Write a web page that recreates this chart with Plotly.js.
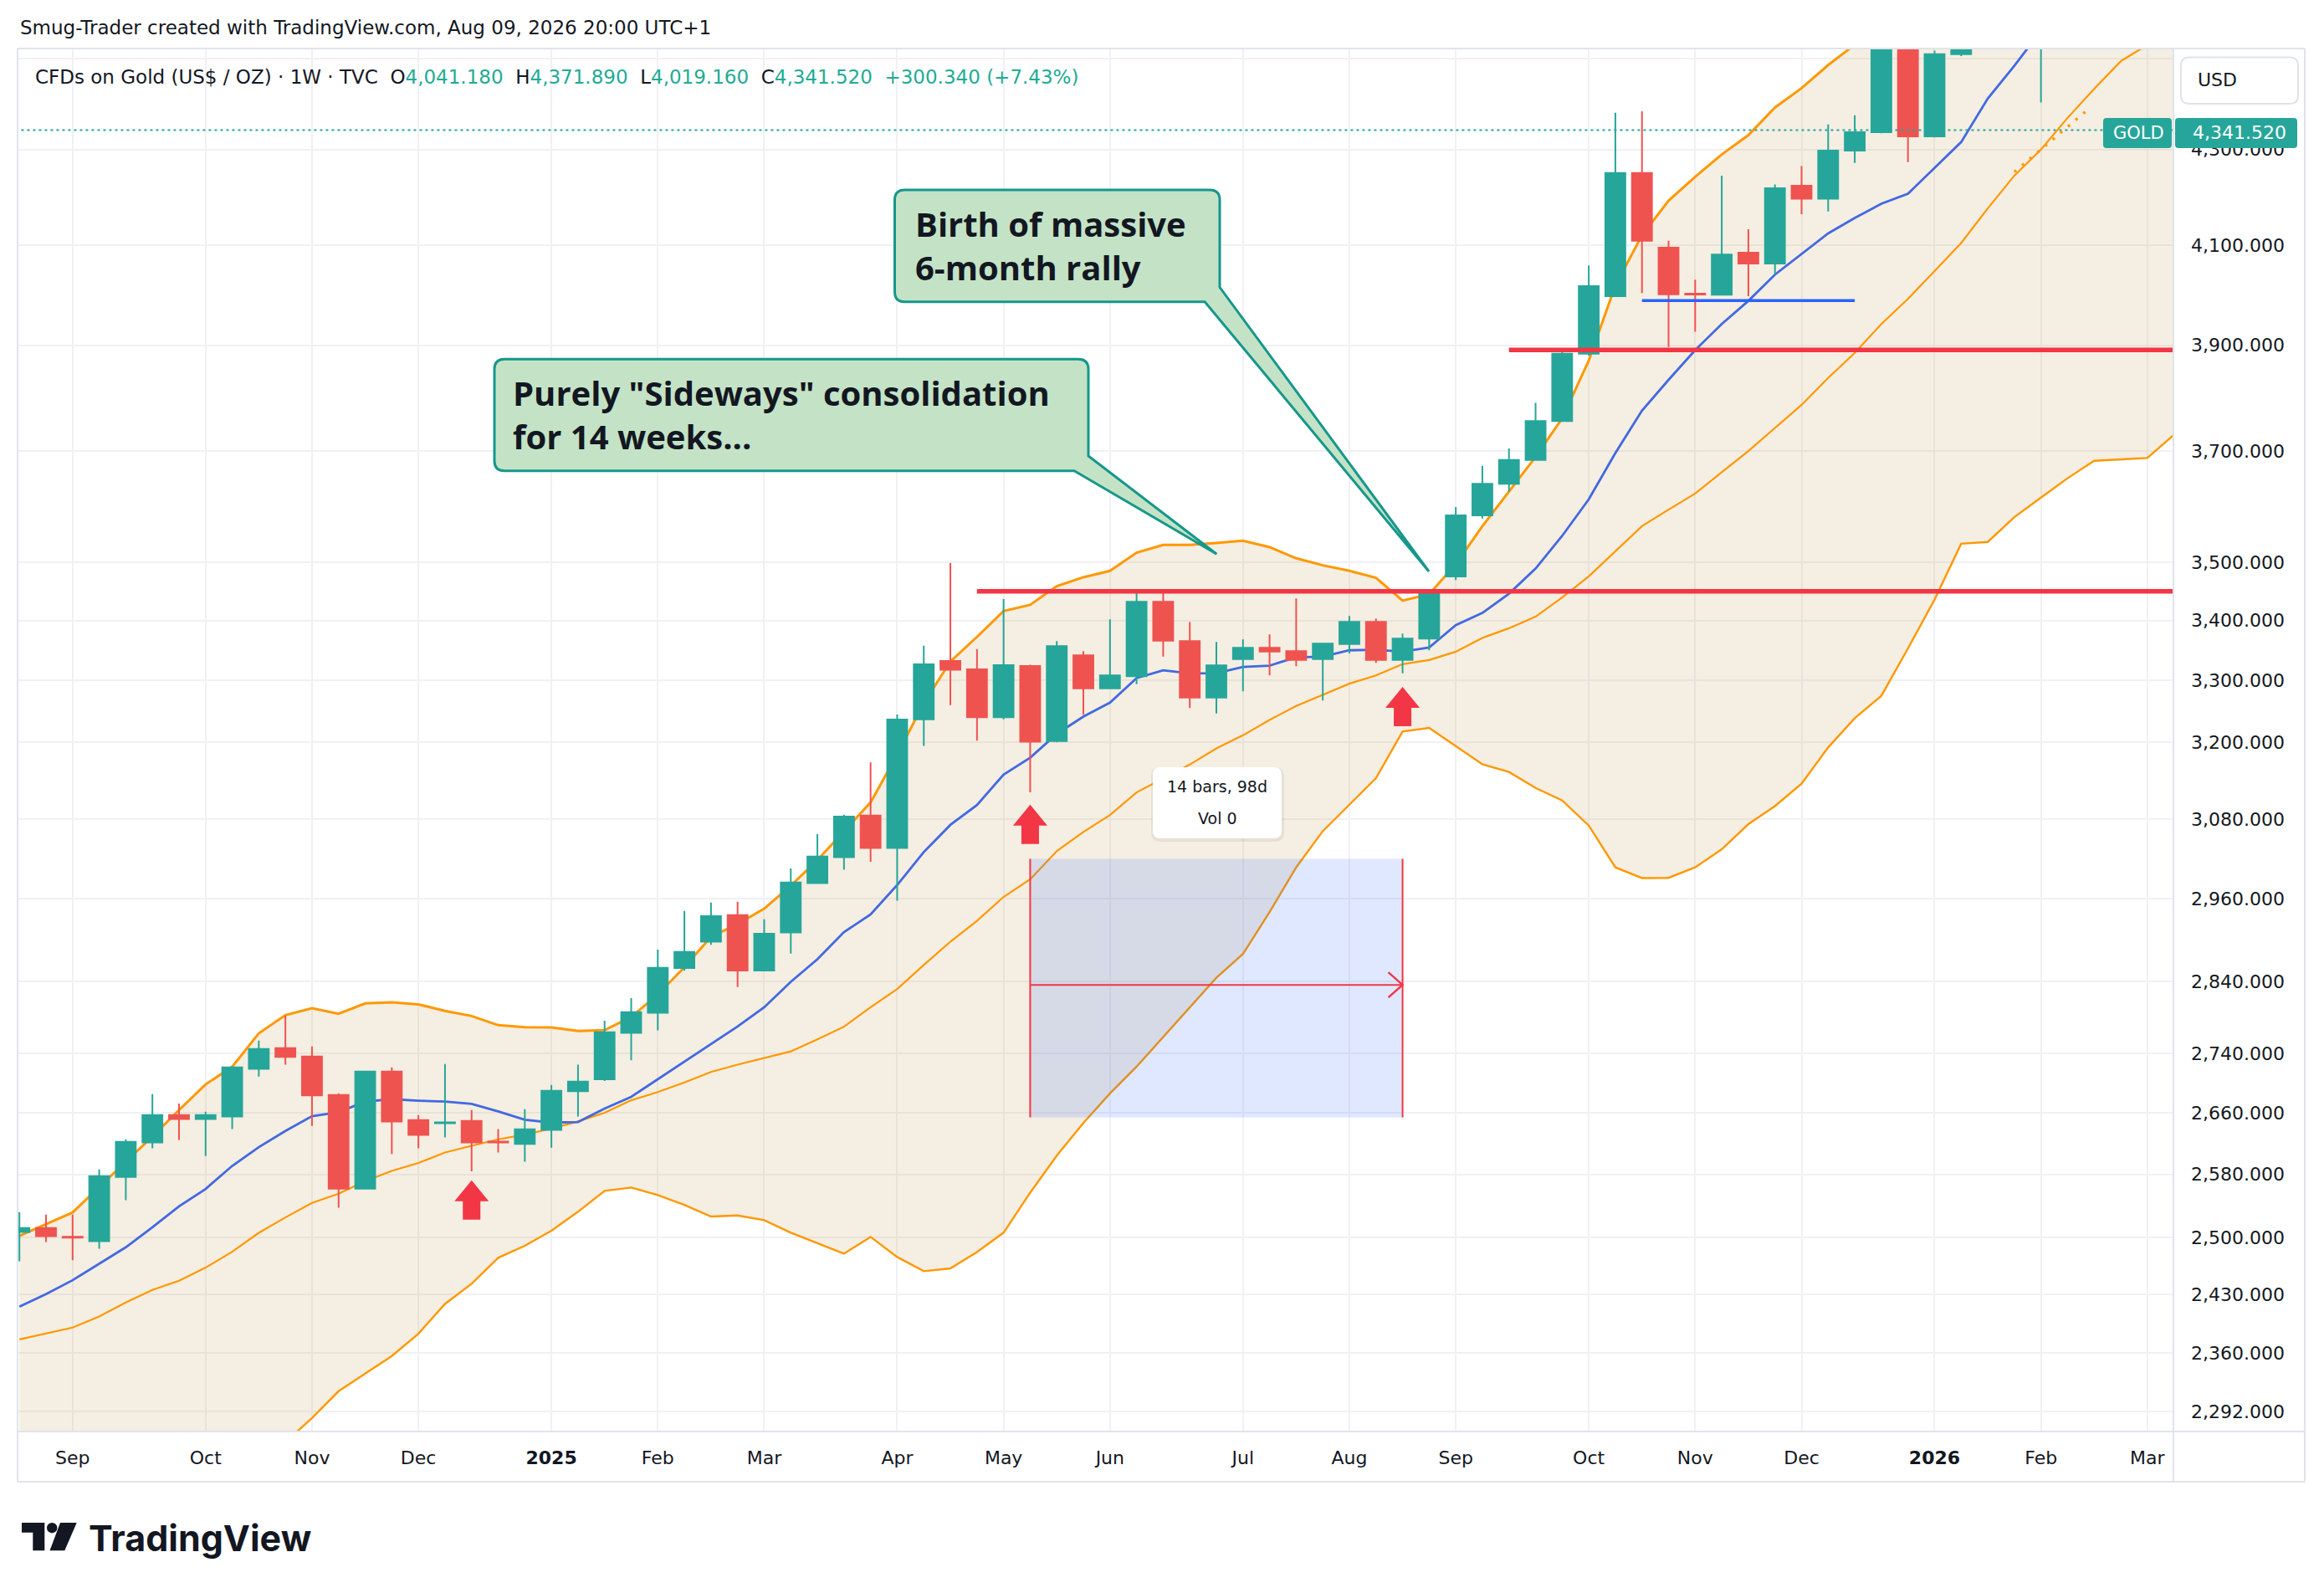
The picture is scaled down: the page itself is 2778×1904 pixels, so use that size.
<!DOCTYPE html>
<html><head><meta charset="utf-8">
<script src="https://cdn.plot.ly/plotly-3.0.1.min.js"></script>
<style>html,body{margin:0;padding:0;background:#fff;}#chart{width:2778px;height:1904px;}</style>
</head><body><div id="chart"></div>
<script>
// ---------- DATA ----------
const weeks = ['2024-08-19','2024-08-26','2024-09-02','2024-09-09','2024-09-16','2024-09-23','2024-09-30','2024-10-07','2024-10-14','2024-10-21',
'2024-10-28','2024-11-04','2024-11-11','2024-11-18','2024-11-25','2024-12-02','2024-12-09','2024-12-16','2024-12-23','2024-12-30',
'2025-01-06','2025-01-13','2025-01-20','2025-01-27','2025-02-03','2025-02-10','2025-02-17','2025-02-24','2025-03-03','2025-03-10',
'2025-03-17','2025-03-24','2025-03-31','2025-04-07','2025-04-14','2025-04-21','2025-04-28','2025-05-05','2025-05-12','2025-05-19',
'2025-05-26','2025-06-02','2025-06-09','2025-06-16','2025-06-23','2025-06-30','2025-07-07','2025-07-14','2025-07-21','2025-07-28',
'2025-08-04','2025-08-11','2025-08-18','2025-08-25','2025-09-01','2025-09-08','2025-09-15','2025-09-22','2025-09-29','2025-10-06',
'2025-10-13','2025-10-20','2025-10-27','2025-11-03','2025-11-10','2025-11-17','2025-11-24','2025-12-01','2025-12-08','2025-12-15',
'2025-12-22','2025-12-29','2026-01-05','2026-01-12','2026-01-19','2026-01-26','2026-02-02','2026-02-09','2026-02-16','2026-02-23',
'2026-03-02','2026-03-09'];

const open = [2507.0,2511.9,2501.0,2495.5,2576.6,2621.4,2657.4,2652.2,2655.5,2719.4,
2747.6,2736.1,2684.1,2561.6,2715.7,2650.7,2646.7,2649.6,2622.5,2619.3,
2637.9,2689.0,2705.3,2768.5,2796.4,2859.4,2897.2,2935.8,2856.0,2910.7,
2983.0,3021.8,3085.1,3035.8,3236.8,3332.2,3318.3,3240.0,3324.0,3202.0,
3341.8,3287.0,3307.1,3432.1,3365.5,3271.9,3335.3,3354.3,3348.7,3335.3,
3360.4,3397.9,3333.9,3369.7,3475.8,3583.0,3639.9,3683.4,3755.6,3883.9,
3996.6,4249.9,4094.5,4001.9,3999.6,4084.3,4062.4,4223.1,4195.6,4297.5,
4336.9,4530.0,4328.2,4509.0,4600.0,4890.0,4900.0];
const high = [2531.5,2528.7,2528.7,2586.3,2625.4,2685.2,2672.6,2661.8,2722.8,2757.9,
2792.2,2749.9,2686.4,2715.7,2721.3,2657.4,2725.9,2664.0,2639.0,2665.2,
2697.6,2725.1,2785.4,2816.7,2885.7,2941.9,2954.2,2955.6,2929.7,3005.0,
3056.7,3086.6,3167.9,3244.6,3357.8,3499.0,3352.0,3436.9,3326.0,3365.5,
3348.7,3402.2,3446.9,3446.9,3397.5,3364.1,3368.3,3376.8,3437.8,3362.7,
3407.9,3403.6,3378.2,3453.0,3598.1,3672.8,3704.7,3789.6,3887.0,4058.5,
4379.2,4382.5,4108.7,4029.8,4244.2,4132.4,4225.5,4264.6,4354.0,4374.1,
4550.0,4560.0,4517.0,4640.0,4900.0,5100.0,5050.0];
const low = [2470.7,2494.5,2472.0,2486.2,2547.1,2613.8,2624.7,2603.6,2639.0,2708.9,
2725.1,2643.0,2537.5,2561.6,2606.2,2613.8,2628.0,2583.8,2608.3,2596.4,
2614.5,2655.5,2703.0,2731.0,2772.1,2855.6,2892.6,2832.4,2856.0,2880.2,
2983.0,3003.1,3015.1,2957.0,3194.3,3259.7,3202.5,3236.8,3121.0,3200.0,
3244.3,3287.0,3293.8,3339.5,3255.2,3246.1,3282.4,3308.5,3323.7,3267.4,
3345.0,3329.3,3311.7,3350.1,3469.4,3577.5,3625.9,3683.4,3755.6,3880.0,
3996.6,4002.8,3896.6,3926.6,3998.0,3996.6,4039.9,4163.5,4169.1,4271.2,
4335.0,4272.8,4326.0,4505.0,4580.0,4760.0,4402.0];
const close = [2511.9,2501.8,2500.0,2577.7,2622.2,2657.4,2652.2,2657.4,2721.3,2746.4,
2735.4,2683.4,2561.6,2715.7,2648.9,2631.3,2647.8,2621.4,2621.4,2638.7,
2689.7,2702.1,2769.4,2797.3,2859.7,2882.5,2934.4,2856.0,2908.8,2984.0,
3022.8,3083.7,3035.8,3236.4,3326.9,3317.9,3240.0,3325.3,3201.0,3357.0,
3287.0,3308.5,3432.1,3366.0,3271.9,3325.1,3354.3,3347.8,3333.9,3361.3,
3397.9,3333.9,3369.7,3447.0,3583.0,3639.9,3683.4,3755.6,3883.9,4016.6,
4249.9,4108.7,4000.5,4000.0,4080.4,4062.4,4217.4,4195.6,4297.5,4337.3,
4530.0,4328.2,4508.9,4600.0,4890.0,4980.0,4960.0];

const maBlue = [2415.3,2430.5,2447.4,2467.2,2487.9,2512.9,2539.2,2561.3,2590.9,2615.2,
2636.4,2655.9,2661.1,2675.2,2678.5,2676.5,2675.2,2672.2,2662.3,2651.1,
2647.4,2648.2,2665.9,2681.6,2705.3,2729.1,2753.1,2777.4,2804.0,2839.9,
2871.9,2911.1,2936.8,2980.2,3029.6,3070.9,3101.4,3148.8,3175.5,3213.4,
3241.2,3263.8,3303.9,3316.8,3311.7,3312.1,3322.3,3324.6,3338.5,3339.5,
3350.1,3351.0,3347.8,3354.8,3392.3,3413.1,3445.9,3489.4,3546.7,3612.0,
3696.2,3775.1,3833.5,3890.7,3941.8,3987.4,4039.9,4081.9,4123.7,4155.5,
4185.2,4206.1,4260.5,4315.7,4410.4,4483.0,4562.0];

const bbUpper = [2502.0,2516.4,2531.5,2563.8,2596.4,2629.1,2664.0,2698.3,2722.1,2767.9,
2793.0,2802.7,2795.0,2809.4,2811.0,2808.1,2798.9,2791.8,2779.1,2776.2,
2775.9,2771.0,2772.2,2790.6,2821.9,2860.6,2904.2,2922.8,2945.2,2979.2,
3017.5,3061.1,3105.4,3180.6,3262.8,3331.4,3372.5,3416.2,3426.8,3458.9,
3474.3,3485.4,3517.1,3530.8,3530.8,3534.2,3538.0,3526.8,3507.3,3495.1,
3485.4,3473.4,3434.0,3445.0,3497.0,3563.8,3625.9,3689.1,3760.6,3870.5,
4018.2,4119.7,4191.6,4241.8,4289.3,4330.7,4390.9,4433.3,4484.7,4530.6,
4610.0,4710.0,4760.0,4830.0,4920.0,5010.0,5100.0,5180.0,5230.0,5300.0,
5360.0,5400.0];
const bbBasis = [2376.3,2383.3,2390.3,2403.6,2420.3,2435.5,2446.7,2462.8,2482.4,2505.9,
2525.2,2543.5,2555.2,2571.3,2584.5,2594.6,2608.3,2617.0,2625.4,2631.6,
2639.4,2648.9,2660.3,2677.0,2688.0,2701.0,2715.0,2725.0,2734.0,2743.0,
2759.7,2777.0,2804.0,2829.6,2863.7,2897.2,2927.4,2962.6,2988.8,3031.0,
3060.0,3086.0,3121.0,3143.0,3164.6,3190.2,3211.1,3235.8,3258.3,3276.5,
3294.8,3308.5,3327.0,3333.9,3347.8,3370.8,3387.1,3406.6,3439.5,3475.9,
3519.6,3563.8,3593.3,3622.4,3660.9,3699.8,3742.6,3786.0,3837.2,3885.4,
3941.8,3991.3,4046.9,4104.0,4175.5,4244.2,4299.6,4368.2,4431.6,4493.3,
4530.0,4575.0];
const bbLower = [2250.6,2250.2,2249.1,2243.4,2244.2,2241.9,2229.4,2227.3,2242.7,2243.9,
2257.4,2285.0,2315.7,2336.1,2356.6,2383.0,2418.7,2443.1,2474.9,2489.7,
2508.4,2532.3,2558.8,2563.1,2553.5,2541.1,2526.3,2527.6,2521.7,2506.0,
2492.8,2480.0,2500.8,2475.9,2458.4,2461.8,2482.0,2506.1,2556.6,2604.2,
2646.8,2686.2,2722.2,2762.7,2803.8,2845.5,2879.6,2940.3,3006.5,3061.3,
3102.0,3143.3,3217.1,3222.9,3193.9,3165.2,3152.9,3128.0,3108.5,3069.9,
3006.5,2990.6,2990.9,3006.5,3033.8,3072.0,3099.8,3134.6,3191.7,3238.7,
3274.9,3353.2,3435.9,3532.8,3536.0,3580.0,3615.0,3650.0,3682.0,3684.0,
3687.0,3730.0];

const monthTickDates = ['2024-09-02','2024-10-07','2024-11-04','2024-12-02','2025-01-06','2025-02-03','2025-03-03','2025-04-07','2025-05-05','2025-06-02',
'2025-07-07','2025-08-04','2025-09-01','2025-10-06','2025-11-03','2025-12-01','2026-01-05','2026-02-02','2026-03-02'];
const monthTickText = ['Sep','Oct','Nov','Dec','<b>2025</b>','Feb','Mar','Apr','May','Jun','Jul','Aug','Sep','Oct','Nov','Dec','<b>2026</b>','Feb','Mar'];
const priceTickVals = [2292,2360,2430,2500,2580,2660,2740,2840,2960,3080,3200,3300,3400,3500,3700,3900,4100,4300,4500];
const priceTickText = ['2,292.000','2,360.000','2,430.000','2,500.000','2,580.000','2,660.000','2,740.000','2,840.000','2,960.000','3,080.000',
'3,200.000','3,300.000','3,400.000','3,500.000','3,700.000','3,900.000','4,100.000','4,300.000',''];

// drawings (anchored to dates / prices)
const levelPrices = [3450, 3891];
const levelStarts = ['2025-04-28','2025-09-15'];
const supportLine = {x:['2025-10-20','2025-12-15'], y:[3988, 3988]};
const dottedTrend = {x:['2026-01-26','2026-02-13 21:36'], y:[4252, 4383]};
const lastPrice = 4341.52;
const rangeBox = {x0:'2025-05-12', x1:'2025-08-18', y0:2654.4, y1:3019.3, ymid:2835.5};
const arrowDates = ['2024-12-16','2025-05-12','2025-08-18'];
const arrowTips = [2572.3, 3102.0, 3289.5];

// ---------- LAYOUT HELPERS (pixel -> paper) ----------
const W=2778, H=1904, ML=21, MR=180, MT=58, MB=193;
const PW=W-ML-MR, PH=H-MT-MB;
const fx = px => (px-ML)/PW;
const fy = py => (H-MB-py)/PH;
const P = (x,y) => fx(x).toFixed(5)+','+fy(y).toFixed(5);
function rrect(x0,y0,x1,y1,r){
  return `M${P(x0+r,y0)} L${P(x1-r,y0)} Q${P(x1,y0)} ${P(x1,y0+r)} L${P(x1,y1-r)} Q${P(x1,y1)} ${P(x1-r,y1)} L${P(x0+r,y1)} Q${P(x0,y1)} ${P(x0,y1-r)} L${P(x0,y0+r)} Q${P(x0,y0)} ${P(x0+r,y0)} Z`;
}
function callout(x0,y0,x1,y1,r,ry,tip,bx){
  return `M${P(x0+r,y0)} L${P(x1-r,y0)} Q${P(x1,y0)} ${P(x1,y0+r)} L${P(x1,ry)} L${P(tip[0],tip[1])} L${P(bx,y1)} L${P(x0+r,y1)} Q${P(x0,y1)} ${P(x0,y1-r)} L${P(x0,y0+r)} Q${P(x0,y0)} ${P(x0+r,y0)} Z`;
}

const TEAL='#26a69a', RED='#ef5350', LRED='#f23645', ORANGE='#ff9800', TXT='#131722';
const xRange=['2024-08-18 12:22','2026-03-08 20:38'];
const yRange=[Math.log10(2269.6), Math.log10(4521.8)];

// ---------- TRACES ----------
const nC = open.length;
const traces = [
  {type:'scatter', mode:'lines', x:weeks, y:bbLower, line:{color:ORANGE,width:2.4}, hoverinfo:'skip', xaxis:'x', yaxis:'y'},
  {type:'scatter', mode:'lines', x:weeks, y:bbUpper, line:{color:ORANGE,width:3}, fill:'tonexty', fillcolor:'rgba(204,170,110,0.2)', hoverinfo:'skip', xaxis:'x', yaxis:'y'},
  {type:'scatter', mode:'lines', x:weeks, y:bbBasis, line:{color:ORANGE,width:2.2}, hoverinfo:'skip', xaxis:'x', yaxis:'y'},
  {type:'scatter', mode:'lines', x:weeks.slice(0,maBlue.length), y:maBlue, line:{color:'#4169e1',width:2.8}, hoverinfo:'skip', xaxis:'x', yaxis:'y'},
  {type:'candlestick', x:weeks.slice(0,nC), open:open, high:high, low:low, close:close,
   increasing:{line:{color:TEAL,width:2}, fillcolor:TEAL}, decreasing:{line:{color:RED,width:2}, fillcolor:RED},
   whiskerwidth:0, hoverinfo:'skip', xaxis:'x2', yaxis:'y2'},
  {type:'scatter', mode:'lines', x:[rangeBox.x0,rangeBox.x1,rangeBox.x1,rangeBox.x0,rangeBox.x0], y:[rangeBox.y0,rangeBox.y0,rangeBox.y1,rangeBox.y1,rangeBox.y0],
   fill:'toself', fillcolor:'rgba(41,98,255,0.15)', line:{width:0}, hoverinfo:'skip', xaxis:'x2', yaxis:'y2'},
  {type:'scatter', mode:'lines', x:[rangeBox.x0,rangeBox.x0], y:[rangeBox.y0,rangeBox.y1], line:{color:LRED,width:2}, hoverinfo:'skip', xaxis:'x2', yaxis:'y2'},
  {type:'scatter', mode:'lines', x:[rangeBox.x1,rangeBox.x1], y:[rangeBox.y0,rangeBox.y1], line:{color:LRED,width:2}, hoverinfo:'skip', xaxis:'x2', yaxis:'y2'},
  {type:'scatter', mode:'lines', x:[rangeBox.x0,rangeBox.x1], y:[rangeBox.ymid,rangeBox.ymid], line:{color:LRED,width:2}, hoverinfo:'skip', xaxis:'x2', yaxis:'y2'},
  {type:'scatter', mode:'lines', x:['2024-08-01','2026-04-01'], y:[lastPrice,lastPrice], line:{color:TEAL,width:2,dash:'3px,4px'}, hoverinfo:'skip', xaxis:'x2', yaxis:'y2'},
  {type:'scatter', mode:'lines', x:dottedTrend.x, y:dottedTrend.y, line:{color:ORANGE,width:3.5,dash:'3px,9px'}, hoverinfo:'skip', xaxis:'x2', yaxis:'y2'},
  {type:'scatter', mode:'lines', x:supportLine.x, y:supportLine.y, line:{color:'#2962ff',width:3.5}, hoverinfo:'skip', xaxis:'x2', yaxis:'y2'}
];
levelPrices.forEach((v,i)=>traces.push({type:'scatter', mode:'lines', x:[levelStarts[i],'2026-04-01'], y:[v,v], line:{color:LRED,width:5.5}, hoverinfo:'skip', xaxis:'x2', yaxis:'y2'}));

// ---------- SHAPES ----------
const shapes = [];
const frame = {type:'line', xref:'paper', yref:'paper', layer:'above', line:{color:'#e0e3eb', width:2}};
shapes.push(Object.assign({}, frame, {x0:fx(21), x1:fx(2755), y0:fy(58), y1:fy(58)}));
shapes.push(Object.assign({}, frame, {x0:fx(21), x1:fx(2755), y0:fy(1771), y1:fy(1771)}));
shapes.push(Object.assign({}, frame, {x0:fx(21), x1:fx(21), y0:fy(58), y1:fy(1771)}));
shapes.push(Object.assign({}, frame, {x0:fx(2755), x1:fx(2755), y0:fy(58), y1:fy(1771)}));
shapes.push(Object.assign({}, frame, {x0:fx(2598), x1:fx(2598), y0:fy(58), y1:fy(1771)}));
shapes.push(Object.assign({}, frame, {x0:fx(21), x1:fx(2755), y0:fy(1711), y1:fy(1711)}));

// arrows under bars
arrowDates.forEach((d,i)=>shapes.push({type:'path', xref:'x', yref:'y', xsizemode:'pixel', ysizemode:'pixel', xanchor:d, yanchor:arrowTips[i],
  path:'M0,0 L20.5,-25 L10.5,-25 L10.5,-47 L-10.5,-47 L-10.5,-25 L-20.5,-25 Z', fillcolor:LRED, line:{width:0}, layer:'above'}));
// chevron at end of range arrow
shapes.push({type:'path', xref:'x', yref:'y', xsizemode:'pixel', ysizemode:'pixel', xanchor:rangeBox.x1, yanchor:rangeBox.ymid,
  path:'M-17,15 L0,0 L-17,-15', line:{color:LRED,width:2.5}, layer:'above'});

// callouts
const CALL_FILL='#c4e3c6', CALL_LINE='#16978b';
shapes.push({type:'path', xref:'paper', yref:'paper', layer:'above', path:callout(591,429.3,1301,562.7,12,545,[1454.3,662.3],1284.1), fillcolor:CALL_FILL, line:{color:CALL_LINE,width:3}});
shapes.push({type:'path', xref:'paper', yref:'paper', layer:'above', path:callout(1069.5,227,1458,360.7,12,343.3,[1708,683],1440.2), fillcolor:CALL_FILL, line:{color:CALL_LINE,width:3}});
// tooltip
shapes.push({type:'path', xref:'paper', yref:'paper', layer:'above', path:rrect(1376,917,1535,1006,11), fillcolor:'rgba(0,0,0,0.06)', line:{width:0}});
shapes.push({type:'path', xref:'paper', yref:'paper', layer:'above', path:rrect(1378,917,1532,1002,9), fillcolor:'#ffffff', line:{width:0}});
// USD box
shapes.push({type:'path', xref:'paper', yref:'paper', layer:'above', path:rrect(2607,68.5,2747,124,10), fillcolor:'#ffffff', line:{color:'#e0e3eb',width:2}});
// GOLD + price label
shapes.push({type:'path', xref:'paper', yref:'paper', layer:'above', path:rrect(2514,141,2596,177,4), fillcolor:TEAL, line:{width:0}});
shapes.push({type:'path', xref:'paper', yref:'paper', layer:'above', path:rrect(2600,141,2746,177,4), fillcolor:TEAL, line:{width:0}});
// TradingView logo mark
shapes.push({type:'path', xref:'paper', yref:'paper', layer:'above', path:`M${P(26,1820)} L${P(53.3,1820)} L${P(53.3,1853.3)} L${P(39.3,1853.3)} L${P(39.3,1831.7)} L${P(26,1831.7)} Z`, fillcolor:TXT, line:{width:0}});
shapes.push({type:'circle', xref:'paper', yref:'paper', layer:'above', x0:fx(56), x1:fx(68.4), y0:fy(1832.4), y1:fy(1820), fillcolor:TXT, line:{width:0}});
shapes.push({type:'path', xref:'paper', yref:'paper', layer:'above', path:`M${P(72,1820)} L${P(91.7,1820)} L${P(77.3,1853.3)} L${P(59.5,1853.3)} Z`, fillcolor:TXT, line:{width:0}});

// ---------- ANNOTATIONS ----------
const ann = [];
function txt(x,y,text,opt){ ann.push(Object.assign({xref:'paper', yref:'paper', x:fx(x), y:fy(y), text:text, showarrow:false, xanchor:'left', yanchor:'middle',
  font:{family:'DejaVu Sans', size:23, color:TXT}}, opt||{})); }
const G='#22ab94';
txt(22,33,'Smug-Trader created with TradingView.com, Aug 09, 2026 20:00 UTC+1');
txt(40,92,'CFDs on Gold (US$ / OZ) · 1W · TVC\u00a0\u00a0O<span style="color:'+G+'">4,041.180</span>\u00a0\u00a0H<span style="color:'+G+'">4,371.890</span>\u00a0\u00a0L<span style="color:'+G+'">4,019.160</span>\u00a0\u00a0C<span style="color:'+G+'">4,341.520</span>\u00a0\u00a0<span style="color:'+G+'">+300.340 (+7.43%)</span>');
txt(2650,96,'USD',{xanchor:'center', font:{family:'DejaVu Sans', size:22, color:TXT}});
txt(2556,159,'GOLD',{xanchor:'center', font:{family:'DejaVu Sans', size:21, color:'#ffffff'}});
txt(2677,159,'4,341.520',{xanchor:'center', font:{family:'DejaVu Sans', size:22, color:'#ffffff'}});
const CF={family:'Open Sans', size:40, color:TXT, weight:700};
txt(1092,293.5,'Birth of massive<br>6-month rally',{font:CF, align:'left'});
txt(611,495.5,'Purely "Sideways" consolidation<br>for 14 weeks...',{font:CF, align:'left'});
txt(1455,940,'14 bars, 98d',{xanchor:'center', font:{family:'DejaVu Sans', size:19, color:TXT}});
txt(1455,978,'Vol 0',{xanchor:'center', font:{family:'DejaVu Sans', size:19, color:TXT}});
txt(104,1838,'TradingView',{font:{family:'Inter', size:43, color:TXT, weight:700}});

// ---------- LAYOUT ----------
const layout = {
  width:W, height:H, margin:{l:ML, r:MR, t:MT, b:MB, pad:0},
  paper_bgcolor:'#ffffff', plot_bgcolor:'#ffffff', showlegend:false,
  boxgap:0.25, boxgroupgap:0, hovermode:false,
  xaxis:{type:'date', range:xRange, tickmode:'array', tickvals:monthTickDates, ticktext:monthTickText,
    showgrid:true, gridcolor:'#f0f1f4', gridwidth:2, zeroline:false, showline:false, ticks:'',
    tickfont:{family:'DejaVu Sans', size:22, color:TXT}, ticklabelstandoff:16, rangeslider:{visible:false}, fixedrange:true},
  yaxis:{type:'log', range:yRange, side:'right', tickmode:'array', tickvals:priceTickVals, ticktext:priceTickText,
    showgrid:true, gridcolor:'#f0f1f4', gridwidth:2, zeroline:false, showline:false, ticks:'',
    tickfont:{family:'DejaVu Sans', size:22, color:TXT}, ticklabelstandoff:20, fixedrange:true},
  xaxis2:{type:'date', overlaying:'x', range:xRange, visible:false, showgrid:false, rangeslider:{visible:false}, fixedrange:true},
  yaxis2:{type:'log', overlaying:'y', range:yRange, visible:false, showgrid:false, fixedrange:true},
  shapes:shapes, annotations:ann
};
Plotly.newPlot('chart', traces, layout, {staticPlot:true, displayModeBar:false});
</script>
</body></html>
